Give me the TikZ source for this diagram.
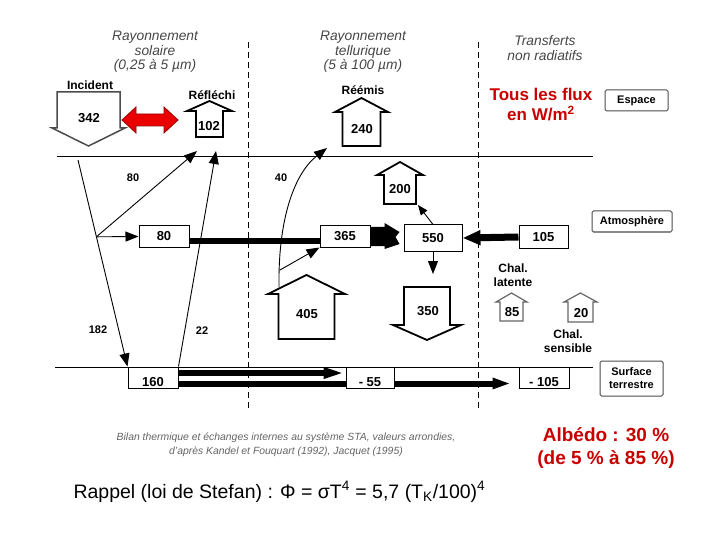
\documentclass[tikz,border=0pt]{standalone}
\usepackage{fontspec}
\setmainfont{Liberation Sans}
\usetikzlibrary{positioning, arrows.meta, calc, backgrounds}
\definecolor{titgris}{RGB}{70,70,70}
\definecolor{legris}{RGB}{100,100,100}
\definecolor{fluxrouge}{RGB}{200,0,0}
\definecolor{flecherouge}{RGB}{235,0,0}

% maison (fleche montante creuse) : cx, pointe, gouttiere, demi-toit, demi-corps, bas
\newcommand{\maison}[7][]{%
  \draw[maisonstyle, #1] ({#2-#6},#7) -- ({#2-#6},#4) -- ({#2-#5},#4) -- (#2,#3)
    -- ({#2+#5},#4) -- ({#2+#6},#4) -- ({#2+#6},#7) -- cycle;}
% fleche descendante creuse : cx, haut, bas du corps, demi-corps, demi-tete, pointe
\newcommand{\flechebas}[7][]{%
  \draw[maisonstyle, #1] ({#2-#5},#3) -- ({#2+#5},#3) -- ({#2+#5},#4) -- ({#2+#6},#4)
    -- (#2,#7) -- ({#2-#6},#4) -- ({#2-#5},#4) -- cycle;}

\tikzset{
  valbox/.style={draw, fill=white, line width=1pt, minimum width=50pt,
    minimum height=21pt, inner sep=0pt, font=\fontsize{13}{15}\selectfont\bfseries},
  legbox/.style={draw=black!70, fill=white, line width=1pt, rounded corners=1.5pt,
    inner sep=0pt, align=center, font=\fontsize{11}{13}\selectfont\bfseries},
  val/.style={font=\fontsize{13}{15}\selectfont\bfseries},
  tag/.style={font=\fontsize{12}{14.5}\selectfont\bfseries, align=center},
  petit/.style={font=\fontsize{11}{13}\selectfont\bfseries},
  titre/.style={font=\fontsize{13.8}{14.5}\selectfont\itshape, text=titgris, align=center},
  fl/.style={line width=0.9pt, -{Triangle[length=13pt,width=10pt]}},
  flc/.style={line width=0.9pt, -{Triangle[length=10pt,width=8pt]}},
  maisonstyle/.style={draw, line width=1.8pt, fill=white, line join=miter},
  separ/.style={line width=0.9pt, dash pattern=on 6pt off 4pt},
}

\begin{document}
\begin{tikzpicture}[x=1pt, y=-1pt]
  \useasboundingbox (0,0) rectangle (720,540);

  % titres des colonnes
  \node[titre] (tsol) at (155,52) {Rayonnement\\solaire\\(0,25 à 5 µm)};
  \node[titre] (ttel) at (363,52) {Rayonnement\\tellurique\\(5 à 100 µm)};
  \node[titre] (tnr) at (545,48) {Transferts\\non radiatifs};

  % limites espace / surface et separations
  \draw[line width=0.9pt] (57,156) -- (593,156);
  \draw[line width=0.9pt] (55,367) -- (593,367);
  \draw[separ] (248,42) -- (248,410);
  \draw[separ] (478,42) -- (478,410);

  % fleches creuses
  \flechebas[draw=black!70, line width=1.5pt]{88.5}{92}{128}{31.5}{36.5}{146}
  \node[tag] (incid) at (90,85) {Incident};
  \node[val] (n342) at (89,118) {342};

  \maison{209.5}{101}{111}{22.5}{13.5}{137}
  \node[tag] (refl) at (212,95) {Réfléchi};
  \node[val] (n102) at (209,126) {102};

  \maison{361.5}{98}{112}{26.5}{19}{146}
  \node[tag] (reem) at (363,90) {Réémis};
  \node[val] (n240) at (362,129) {240};

  \maison{400}{162}{175}{23}{16}{204}
  \node[val] (n200) at (400,189) {200};

  \maison{306.5}{275}{294}{38.5}{28}{339}
  \node[val] (n405) at (307,314) {405};

  \flechebas{427}{287}{325}{23}{34}{340}
  \node[val] (n350) at (428,311) {350};

  \maison[draw=black!60, line width=1.2pt]{511.5}{293}{302}{15.5}{11.5}{321}
  \node[val] (n85) at (512,312) {85};
  \maison[draw=black!60, line width=1.2pt]{580.5}{293}{302}{16.5}{12.5}{322}
  \node[val] (n20) at (581,313) {20};

  % double fleche rouge
  \draw[draw=red!60!black, fill=flecherouge, line width=0.8pt]
    (122,120) -- (136,107) -- (136,114) -- (164,114) -- (164,107) -- (178,120)
    -- (164,133) -- (164,126) -- (136,126) -- (136,133) -- cycle;

  % boites de valeurs
  \node[valbox] (b80) at (164,236.5) {80};
  \node[valbox] (b365) at (345,236.5) {365};
  \node[valbox, minimum width=58pt, minimum height=26pt] (b550) at (433,238) {550};
  \node[valbox, minimum width=49pt, minimum height=22pt] (b105) at (543.5,237) {105};
  \node[valbox] (b160) at (153,377.5) {\raisebox{-9pt}[0pt][0pt]{160}};
  \node[valbox, minimum width=48pt] (b55) at (370,377.5) {\raisebox{-9pt}[0pt][0pt]{- 55}};
  \node[valbox] (b105s) at (544,377.5) {\raisebox{-9pt}[0pt][0pt]{- 105}};

  % legendes
  \node[legbox, minimum width=63pt, minimum height=21pt] (espace) at (636.5,100.5) {Espace};
  \node[legbox, minimum width=80pt, minimum height=21pt] (atmo) at (632,221.5) {Atmosphère};
  \node[legbox, minimum width=63pt, minimum height=35pt] (surf) at (631.5,378.5) {Surface\\terrestre};

  % flux epais
  \begin{scope}[on background layer]
    \draw[line width=6pt] ($(b80.east)+(0,4.5)$) -- ($(b365.west)+(0,4.5)$);
    \draw[line width=6pt, -{Triangle[length=22pt,width=10pt]}]
      ($(b160.east)+(0,-4.5)$) -- ($(b55.west)+(0,-4.5)$);
    \draw[line width=6pt, -{Triangle[length=24pt,width=9pt]}]
      ($(b160.east)+(0,6)$) -- ($(b105s.west)+(-2,6)$);
  \end{scope}
  \fill (b365.east) ++(0,-9.5) -- ++(14,0) -- ++(0,-4) -- ++(15,9) -- ++(-4,5)
    -- ++(4,7) -- ++(-15,5) -- ++(0,-3) -- ++(-14,0) -- cycle;
  \draw[line width=7pt, -{Triangle[length=18pt,width=14pt]}] (b105.west) -- (b550.east);

  % flux solaires
  \coordinate (i0) at (78,160);
  \coordinate (i1) at ($(i0)!0.372!(b160.north west)$);
  \coordinate (r80) at (197,151);
  \coordinate (r22) at (216,151);
  \draw[fl] (i0) -- (b160.north west);
  \draw[fl] (i1) -- (b80.west);
  \draw[fl] (i1) -- (r80);
  \draw[fl] (b160.north east) -- (r22);
  \node[petit] (l80) at (133,178) {80};
  \node[petit] (l182) at (98,330) {182};
  \node[petit] (l22) at (202,331) {22};

  % flux telluriques
  \coordinate (t40a) at (279,287);
  \coordinate (t40b) at (327,148);
  \coordinate (t40c) at (280,270);
  \draw[fl] (t40a) .. controls (278,215) and (296,172) .. (t40b);
  \draw[fl] (t40c) -- (b365.south west);
  \node[petit] (l40) at (281,178) {40};
  \coordinate (m200) at (418,205);
  \coordinate (f350) at (433,274);
  \draw[flc] (b550.north) -- (m200);
  \draw[fl] (b550.south) -- (f350);

  % chaleurs
  \node[tag] (latente) at (513,275) {Chal.\\latente};
  \node[tag] (sensible) at (568,341) {Chal.\\sensible};

  % textes
  \node[font=\fontsize{17}{20}\selectfont\bfseries, text=fluxrouge, align=center]
    (unite) at (541,105) {Tous les flux\\en W/m\textsuperscript{2}};
  \node[font=\fontsize{10.4}{14}\selectfont\itshape, text=legris, align=center]
    (source) at (286,445) {Bilan thermique et échanges internes au système STA, valeurs arrondies,\\d'après Kandel et Fouquart (1992), Jacquet (1995)};
  \node[font=\fontsize{19}{23}\selectfont\bfseries, text=fluxrouge, align=center]
    (albedo) at (606,448) {Albédo : 30 \%\\(de 5 \% à 85 \%)};
  \node[anchor=west, font=\fontsize{19.5}{22}\selectfont]
    (rappel) at (70,492) {Rappel (loi de Stefan) : Φ = σT\textsuperscript{4} = 5,7 (T\textsubscript{K}/100)\textsuperscript{4}};
\end{tikzpicture}
\end{document}
